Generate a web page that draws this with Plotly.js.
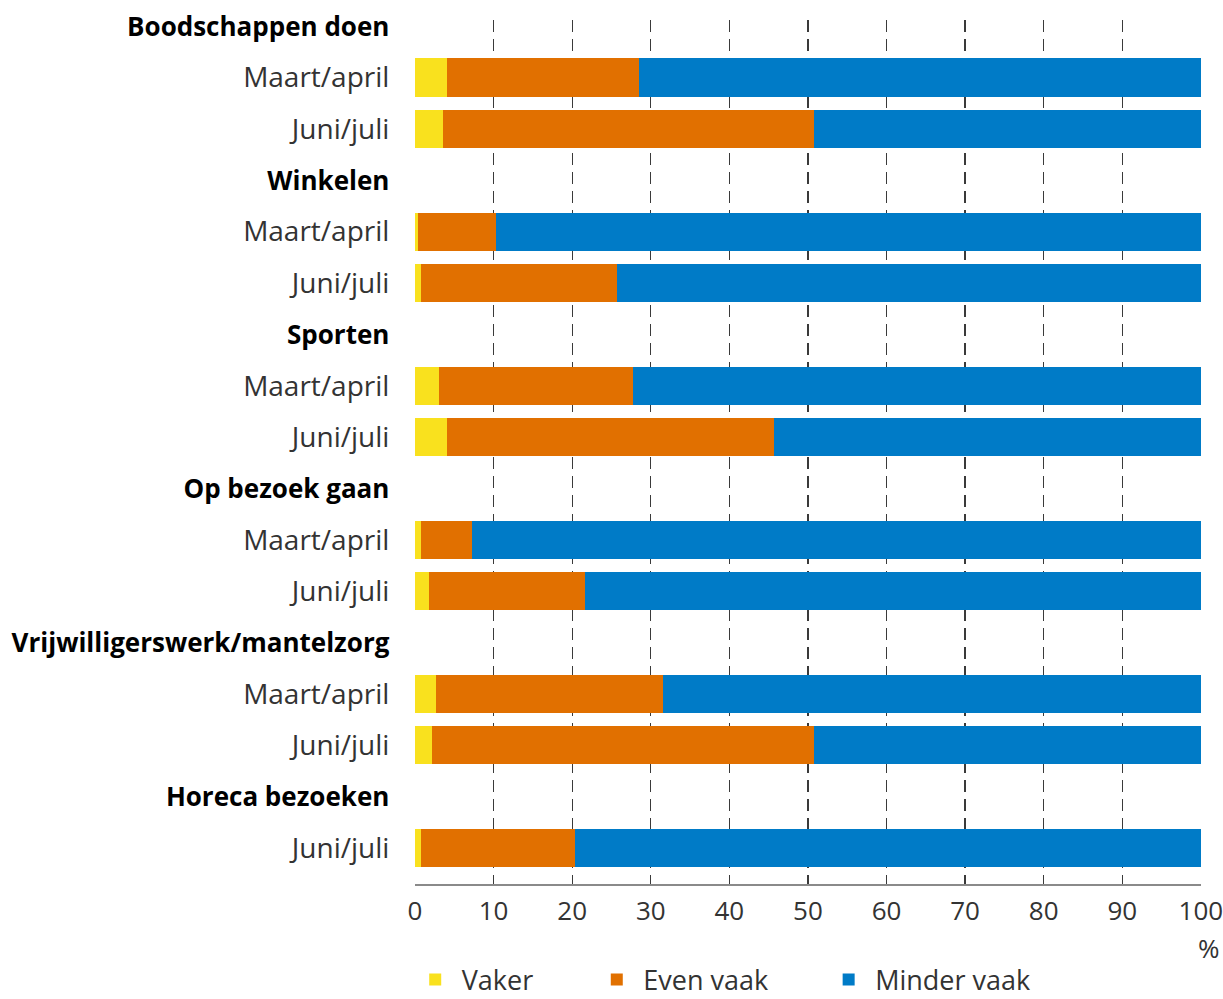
<!DOCTYPE html>
<html>
<head>
<meta charset="utf-8">
<script src="https://cdn.plot.ly/plotly-3.0.1.min.js"></script>
<style>
  html, body { margin: 0; padding: 0; background: #ffffff; }
  #chart { width: 1223px; height: 999px; }
</style>
</head>
<body>
<div id="chart"></div>
<script>
// ---- Data (percentages) ----
const activities = [
  'Boodschappen doen',
  'Winkelen',
  'Sporten',
  'Op bezoek gaan',
  'Vrijwilligerswerk/mantelzorg',
  'Horeca bezoeken'
];
const periods = [
  ['Maart/april', 'Juni/juli'],
  ['Maart/april', 'Juni/juli'],
  ['Maart/april', 'Juni/juli'],
  ['Maart/april', 'Juni/juli'],
  ['Maart/april', 'Juni/juli'],
  ['Juni/juli']
];
const vaker      = [[4.1, 3.5], [0.35, 0.8], [3.1, 4.1], [0.8, 1.8], [2.7, 2.1], [0.8]];
const evenVaak   = [[24.4, 47.3], [9.95, 24.9], [24.6, 41.6], [6.4, 19.8], [28.9, 48.7], [19.5]];
const minderVaak = [[71.5, 49.2], [89.7, 74.3], [72.3, 54.3], [92.8, 78.4], [68.4, 49.2], [79.7]];
const seriesNames = ['Vaker', 'Even vaak', 'Minder vaak'];
const xTicks = [0, 10, 20, 30, 40, 50, 60, 70, 80, 90, 100];

// ---- Build category rows (group headers + period rows) ----
const cats = [], tickText = [], yIds = [];
const fv = [], fe = [], fm = [];
activities.forEach((act, i) => {
  cats.push(act);
  tickText.push('<span style="color:#000000;font-size:26px"><b>' + act + '</b></span>');
  periods[i].forEach((p, j) => {
    const id = act + ' \u00b7 ' + p;
    cats.push(id);
    tickText.push(p);
    yIds.push(id);
    fv.push(vaker[i][j]);
    fe.push(evenVaak[i][j]);
    fm.push(minderVaak[i][j]);
  });
});

const colors = ['#F9E11E', '#E17000', '#007BC7'];
const values = [fv, fe, fm];
const legendIds = ['legend', 'legend2', 'legend3'];

const traces = values.map((vals, k) => ({
  type: 'bar',
  orientation: 'h',
  name: seriesNames[k],
  x: vals,
  y: yIds,
  marker: { color: colors[k], line: { width: 0 } },
  legend: legendIds[k],
  showlegend: true,
  hoverinfo: 'x+y+name'
}));

const fontFam = '"Open Sans", "Noto Sans", sans-serif';
const legendBase = {
  orientation: 'h',
  xanchor: 'left',
  yanchor: 'middle',
  y: -0.111,
  itemwidth: 43,
  font: { family: fontFam, size: 27, color: '#333333' },
  bgcolor: 'rgba(0,0,0,0)',
  borderwidth: 0
};

const layout = {
  width: 1223,
  height: 999,
  showlegend: true,
  margin: { l: 415, r: 22, t: 20, b: 115, autoexpand: false },
  paper_bgcolor: '#ffffff',
  plot_bgcolor: '#ffffff',
  barmode: 'stack',
  bargap: 0.255,
  font: { family: fontFam, size: 28, color: '#333333' },
  xaxis: {
    range: [0, 100.02],
    tickmode: 'array',
    tickvals: xTicks,
    ticktext: xTicks.map(String),
    ticklabeloverflow: 'allow',
    showgrid: true,
    gridcolor: '#3a3a3a',
    gridwidth: 1.2,
    griddash: '12px,7px',
    zeroline: false,
    showline: true,
    linecolor: '#8a8a8a',
    linewidth: 1.5,
    ticks: 'outside',
    ticklen: 3,
    tickcolor: 'rgba(0,0,0,0)',
    tickfont: { family: fontFam, size: 26, color: '#333333' },
    fixedrange: true
  },
  yaxis: {
    type: 'category',
    categoryorder: 'array',
    categoryarray: cats,
    tickmode: 'array',
    tickvals: cats,
    ticktext: tickText,
    range: [16.7, -0.12],
    showgrid: false,
    zeroline: false,
    showline: false,
    ticks: 'outside',
    ticklen: 19,
    tickcolor: 'rgba(0,0,0,0)',
    tickfont: { family: fontFam, size: 28, color: '#333333' },
    fixedrange: true
  },
  legend:  Object.assign({}, legendBase, { x: -0.008 }),
  legend2: Object.assign({}, legendBase, { x: 0.223 }),
  legend3: Object.assign({}, legendBase, { x: 0.518 }),
  annotations: [{
    xref: 'paper', yref: 'paper',
    x: 1.0102, y: -0.074,
    xanchor: 'center', yanchor: 'middle',
    text: '%',
    showarrow: false,
    font: { family: fontFam, size: 26, color: '#333333' }
  }]
};

Plotly.newPlot('chart', traces, layout, { displayModeBar: false, staticPlot: true });
</script>
</body>
</html>
